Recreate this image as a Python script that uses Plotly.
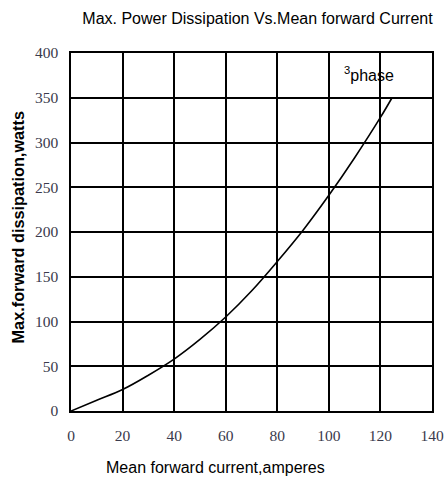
import plotly.graph_objects as go

current_a = [0, 10, 20, 30, 40, 50, 60, 70, 80, 90, 100, 110, 120, 124.5]
power_w = [0, 12, 24, 40, 58, 80, 105, 134, 167, 202, 241, 283, 328, 350]

x_ticks = [0, 20, 40, 60, 80, 100, 120, 140]
y_ticks = [0, 50, 100, 150, 200, 250, 300, 350, 400]

fig = go.Figure()
fig.add_trace(go.Scatter(x=current_a, y=power_w, mode="lines",
                         line=dict(color="black", width=1.6, shape="spline", smoothing=1.0),
                         showlegend=False))

fig.add_annotation(x=115.5, y=376, text="<sup>3</sup>phase", showarrow=False,
                   font=dict(family="Liberation Sans", size=16, color="black"))

fig.add_annotation(xref="paper", yref="paper", x=0.40, y=0, yshift=-56,
                   xanchor="center", yanchor="middle", showarrow=False,
                   text="Mean forward current,amperes",
                   font=dict(family="Liberation Sans", size=16, color="black"))

fig.add_annotation(xref="paper", yref="paper", x=0, xshift=-53, y=0.5126,
                   xanchor="center", yanchor="middle", showarrow=False, textangle=-90,
                   text="<b>Max.forward dissipation,watts</b>",
                   font=dict(family="Liberation Sans", size=16.3, color="black"))

fig.update_layout(
    width=444, height=479,
    margin=dict(l=71, r=12, t=53, b=68, autoexpand=False),
    paper_bgcolor="white", plot_bgcolor="white",
    title=dict(text="Max. Power Dissipation Vs.Mean forward Current", x=0.58, xanchor="center",
               y=0.962, yanchor="middle",
               font=dict(family="Liberation Sans", size=16, color="black")),
    xaxis=dict(range=[0, 140], tickvals=x_ticks, ticktext=[str(v) for v in x_ticks],
               showgrid=True, gridcolor="black", gridwidth=1.5, zeroline=False,
               showline=True, linecolor="black", linewidth=1.5, mirror=True, ticks="",
               ticklabelstandoff=10, automargin=False,
               tickfont=dict(family="Liberation Serif", size=15.5, color="#3a3a4c")),
    yaxis=dict(range=[0, 400], tickvals=y_ticks, ticktext=[str(v) for v in y_ticks],
               showgrid=True, gridcolor="black", gridwidth=1.5, zeroline=False,
               showline=True, linecolor="black", linewidth=1.5, mirror=True, ticks="",
               ticklabelstandoff=8, automargin=False,
               tickfont=dict(family="Liberation Serif", size=15.5, color="#3a3a4c")),
)

fig.write_html("out.html", config={"displayModeBar": False},
               post_script="document.body.style.margin='0';document.body.style.overflow='hidden';")
